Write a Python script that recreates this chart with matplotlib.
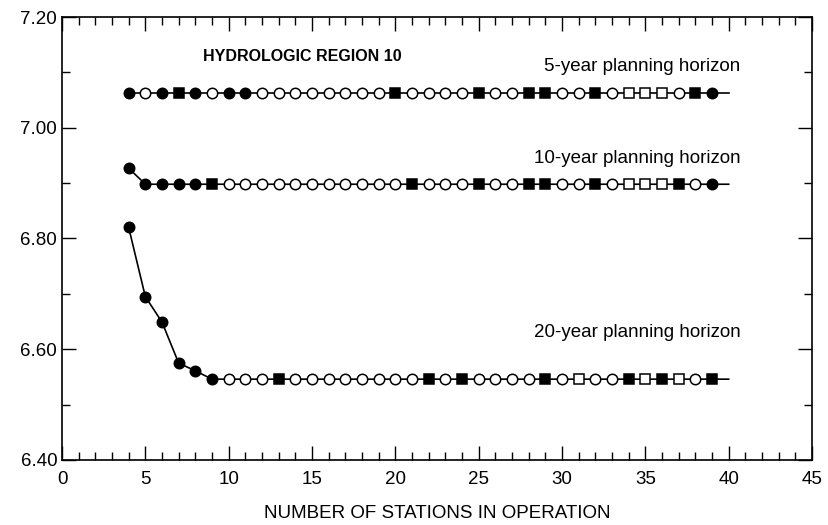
import matplotlib.pyplot as plt
import numpy as np
from matplotlib.ticker import MultipleLocator

# number of stations (markers) and the point where each line stops
stations = np.arange(4, 40)
line_end = 40

h5 = [7.063] * 36
h10 = [6.927] + [6.898] * 35
h20 = [6.820, 6.695, 6.649, 6.575, 6.561] + [6.546] * 31

# F filled circle, O open circle, S filled square, Q open square
m5 = "FOFSFOFFOOOOOOOOSOOOOSOOSSOOSOQQQOSF"
m10 = "FFFFFSOOOOOOOOOOOSOOOSOOSSOOSOQQQSOF"
m20 = "FFFFFFOOOSOOOOOOOOSOSOOOOSOQOOSQSQOS"

labels = ["5-year planning horizon", "10-year planning horizon", "20-year planning horizon"]

styles = {"F": ("o", "black", 7.5), "O": ("o", "white", 7.5),
          "S": ("s", "black", 7), "Q": ("s", "white", 7)}

fam = ["Liberation Sans Narrow", "Liberation Sans", "DejaVu Sans"]
plt.rcParams['font.family'] = fam

fig = plt.figure(figsize=(8.29, 5.25), dpi=100)
ax = fig.add_axes([62/829, 65/525, 750/829, 443/525])

for vals, marks in [(h5, m5), (h10, m10), (h20, m20)]:
    xs = np.append(stations, line_end)
    ys = np.append(vals, vals[-1])
    ax.plot(xs, ys, color='black', lw=1.2, zorder=2)
    marks = np.array(list(marks))
    v = np.array(vals)
    for code, (mk, fc, ms) in styles.items():
        sel = marks == code
        ax.plot(stations[sel], v[sel], linestyle='none', marker=mk, ms=ms,
                mfc=fc, mec='black', mew=1.1, zorder=3)

ax.text(8.45, 7.128, "HYDROLOGIC REGION 10", fontsize=11.5, fontweight='bold',
        ha='left', va='center')
ax.text(40.7, 7.11, labels[0], fontsize=13.5, ha='right', va='center')
ax.text(40.7, 6.944, labels[1], fontsize=13.5, ha='right', va='center')
ax.text(40.7, 6.63, labels[2], fontsize=13.5, ha='right', va='center')

ax.set_xlim(0, 45)
ax.set_ylim(6.40, 7.20)
ax.xaxis.set_major_locator(MultipleLocator(5))
ax.xaxis.set_minor_locator(MultipleLocator(1))
ax.yaxis.set_major_locator(MultipleLocator(0.2))
ax.yaxis.set_minor_locator(MultipleLocator(0.1))
ax.yaxis.set_major_formatter(plt.FormatStrFormatter('%.2f'))
ax.tick_params(which='both', direction='in', top=True, right=True, labelsize=13.5, width=1)
ax.tick_params(which='major', length=10)
ax.tick_params(which='minor', length=6)
ax.tick_params(axis='x', pad=8)
for s in ax.spines.values():
    s.set_linewidth(1.2)

ax.set_xlabel("NUMBER OF STATIONS IN OPERATION", fontsize=13.5, labelpad=12)

fig.savefig("out.png", dpi=100)
